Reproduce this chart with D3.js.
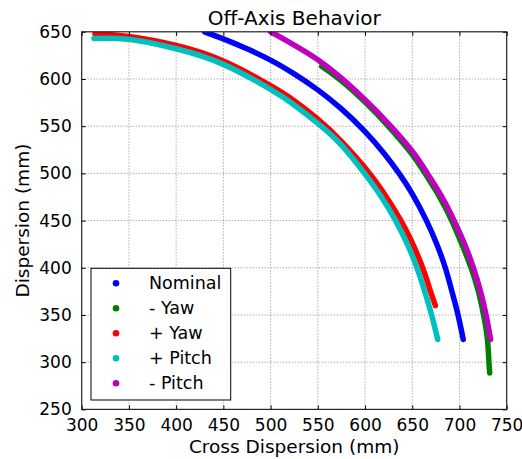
<!DOCTYPE html>
<html>
<head>
<meta charset="utf-8">
<script src="https://cdn.jsdelivr.net/npm/d3@7"></script>
<style>
  body { margin: 0; background: #fff; }
  text { font-family: "DejaVu Sans", sans-serif; fill: #000; }
</style>
</head>
<body>
<div id="chart"></div>
<script>
// series: [cross dispersion, dispersion] in mm
const nominal = [[430,650],[450,642.5],[475,632],[500,620],[525,605.5],[550,588.5],[575,568.3],[600,544.3],[620,521.3],[636,500],[650,478.3],[665,450],[676,425],[685,400],[692,375],[698.5,350],[704,324]];
const minusYaw = [[554,613.5],[575,598],[600,575.5],[625,549.5],[650,520],[663.5,500],[679,475],[691.8,450],[702.5,425],[712.3,400],[720,375],[725.5,350],[729.5,325],[731.2,300],[732,288.5]];
const plusYaw = [[314,648],[350,645],[400,635.5],[450,619],[500,593],[525,577],[550,557.5],[575,534],[600,506],[620,479],[638,450],[649.8,427],[661,400],[669,376],[674.5,360]];
const plusPitch = [[313,643],[350,642],[400,632],[450,615.5],[500,589],[525,572.5],[550,553],[575,530],[599.5,500],[617.4,475],[632.4,450],[644.8,425],[655,400],[663.2,375],[670.5,350],[677,324]];
const minusPitch = [[500,650],[525,636],[550,620.5],[575,601],[600,578],[625,552.5],[650,523.5],[666,500],[681.5,475],[694.3,450],[705.5,425],[714.8,400],[722.3,375],[728.2,350],[733,324]];

const seriesNames = ["Nominal", "- Yaw", "+ Yaw", "+ Pitch", "- Pitch"];
const seriesColors = ["#0000ff", "#008000", "#ff0000", "#00bfbf", "#bf00bf"];
const seriesData = [nominal, minusYaw, plusYaw, plusPitch, minusPitch];

const xTicks = [300,350,400,450,500,550,600,650,700,750];
const yTicks = [250,300,350,400,450,500,550,600,650];

const width = 522, height = 459;
const margin = {left: 81.7, right: 15.3, top: 31.8, bottom: 49.6};

const svg = d3.select("#chart").append("svg")
  .attr("width", width)
  .attr("height", height);

const x = d3.scaleLinear().domain([300, 750]).range([margin.left, width - margin.right]);
const y = d3.scaleLinear().domain([250, 650]).range([height - margin.bottom, margin.top]);

// dotted grid
svg.append("g").selectAll("line")
  .data(xTicks.slice(1, -1))
  .join("line")
  .attr("x1", d => x(d)).attr("x2", d => x(d))
  .attr("y1", y(250)).attr("y2", y(650))
  .attr("stroke", "#888").attr("stroke-dasharray", "1,2");
svg.append("g").selectAll("line")
  .data(yTicks.slice(1, -1))
  .join("line")
  .attr("y1", d => y(d)).attr("y2", d => y(d))
  .attr("x1", x(300)).attr("x2", x(750))
  .attr("stroke", "#888").attr("stroke-dasharray", "1,2");

// curves
svg.append("clipPath").attr("id", "clip").append("rect")
  .attr("x", x(300)).attr("y", y(650))
  .attr("width", x(750) - x(300)).attr("height", y(250) - y(650));

const line = d3.line()
  .x(d => x(d[0]))
  .y(d => y(d[1]))
  .curve(d3.curveNatural);

svg.append("g").attr("clip-path", "url(#clip)")
  .selectAll("path")
  .data(seriesData)
  .join("path")
  .attr("d", line)
  .attr("fill", "none")
  .attr("stroke", (d, i) => seriesColors[i])
  .attr("stroke-width", 5.5)
  .attr("stroke-linecap", "round");

// axes, ticks inward on all sides
svg.append("g").attr("transform", `translate(0,${y(250)})`)
  .call(d3.axisBottom(x).tickValues(xTicks).tickSizeInner(-4).tickSizeOuter(0).tickPadding(10));
svg.append("g").attr("transform", `translate(${x(300)},0)`)
  .call(d3.axisLeft(y).tickValues(yTicks).tickSizeInner(-4).tickSizeOuter(0).tickPadding(10));
svg.append("g").attr("transform", `translate(0,${y(650)})`)
  .call(d3.axisTop(x).tickValues(xTicks).tickSizeInner(-4).tickSizeOuter(0).tickFormat(""));
svg.append("g").attr("transform", `translate(${x(750)},0)`)
  .call(d3.axisRight(y).tickValues(yTicks).tickSizeInner(-4).tickSizeOuter(0).tickFormat(""));

svg.selectAll(".domain").remove();
svg.selectAll(".tick line").attr("stroke", "#000");
svg.selectAll(".tick text").style("font-size", "17px").style("font-family", "DejaVu Sans");

svg.append("rect")
  .attr("x", x(300)).attr("y", y(650))
  .attr("width", x(750) - x(300)).attr("height", y(250) - y(650))
  .attr("fill", "none").attr("stroke", "#222").attr("stroke-width", 1.2);

// titles
svg.append("text")
  .attr("x", (x(300) + x(750)) / 2).attr("y", 25)
  .attr("text-anchor", "middle")
  .style("font-size", "20px")
  .text("Off-Axis Behavior");
svg.append("text")
  .attr("x", (x(300) + x(750)) / 2).attr("y", 453)
  .attr("text-anchor", "middle")
  .style("font-size", "18.5px")
  .text("Cross Dispersion (mm)");
svg.append("text")
  .attr("transform", `translate(29,${(y(250) + y(650)) / 2}) rotate(-90)`)
  .attr("text-anchor", "middle")
  .style("font-size", "18.5px")
  .text("Dispersion (mm)");

// legend
const legend = svg.append("g").attr("transform", "translate(91,268.3)");
legend.append("rect")
  .attr("width", 139.7).attr("height", 131.7)
  .attr("fill", "#fff").attr("stroke", "#000").attr("stroke-width", 1);
const rows = legend.selectAll("g")
  .data(seriesNames)
  .join("g")
  .attr("transform", (d, i) => `translate(0,${15 + i * 25})`);
rows.append("circle")
  .attr("cx", 25).attr("r", 3.3)
  .attr("fill", (d, i) => seriesColors[i]);
rows.append("text")
  .attr("x", 58).attr("dy", "0.35em")
  .style("font-size", "17.5px")
  .text(d => d);
</script>
</body>
</html>
